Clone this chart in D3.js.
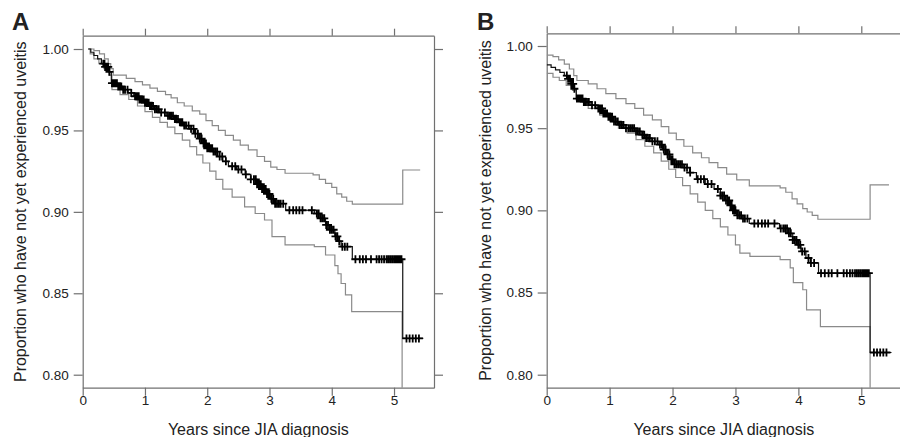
<!DOCTYPE html>
<html>
<head>
<meta charset="utf-8">
<script src="https://cdn.jsdelivr.net/npm/d3@7"></script>
<style>
	body { margin: 0; background: #fff; }
	text { font-family: "Liberation Sans", Arial, sans-serif; fill: #222; }
</style>
</head>
<body>
<script>

var xTicks = [0, 1, 2, 3, 4, 5];
var yTicks = [0.80, 0.85, 0.90, 0.95, 1.00];

// panel A : Kaplan-Meier estimate [years, proportion]
var survA = [[0.09,1.000],[0.13,0.998],[0.18,0.996],[0.24,0.994],[0.30,0.991],[0.36,0.989],[0.42,0.986],[0.46,0.979],[0.56,0.977],[0.64,0.975],[0.73,0.973],[0.82,0.971],[0.91,0.969],[0.99,0.967],[1.07,0.965],[1.15,0.963],[1.23,0.961],[1.35,0.959],[1.46,0.957],[1.54,0.955],[1.62,0.953],[1.71,0.951],[1.80,0.948],[1.87,0.945],[1.93,0.942],[1.99,0.939],[2.09,0.937],[2.17,0.934],[2.25,0.931],[2.34,0.928],[2.47,0.926],[2.61,0.923],[2.70,0.920],[2.80,0.917],[2.88,0.914],[2.95,0.911],[3.01,0.908],[3.08,0.905],[3.26,0.901],[3.72,0.899],[3.82,0.896],[3.90,0.892],[3.97,0.889],[4.05,0.885],[4.10,0.882],[4.15,0.8786],[4.33,0.8709],[5.14,0.8223],[5.47,0.8223]];
var upperA = [[0.09,1.000],[0.18,0.999],[0.27,0.997],[0.35,0.994],[0.41,0.991],[0.45,0.988],[0.49,0.984],[0.70,0.982],[0.84,0.980],[0.96,0.978],[1.08,0.976],[1.20,0.974],[1.33,0.972],[1.42,0.970],[1.52,0.967],[1.63,0.965],[1.76,0.962],[1.88,0.960],[1.98,0.956],[2.08,0.953],[2.18,0.950],[2.29,0.947],[2.42,0.944],[2.53,0.941],[2.66,0.938],[2.80,0.934],[2.92,0.931],[3.02,0.9275],[3.12,0.926],[3.25,0.9237],[3.70,0.9227],[3.80,0.920],[3.90,0.9175],[4.00,0.915],[4.08,0.911],[4.16,0.909],[4.24,0.9065],[4.33,0.9047],[5.14,0.9257],[5.42,0.9257]];
var lowerA = [[0.09,1.000],[0.12,0.997],[0.18,0.994],[0.26,0.991],[0.34,0.988],[0.42,0.984],[0.47,0.975],[0.60,0.972],[0.74,0.969],[0.88,0.965],[1.00,0.9615],[1.12,0.958],[1.24,0.955],[1.36,0.952],[1.48,0.948],[1.60,0.944],[1.72,0.940],[1.83,0.935],[1.93,0.930],[2.04,0.925],[2.14,0.920],[2.25,0.914],[2.40,0.909],[2.60,0.903],[2.77,0.899],[2.92,0.895],[3.04,0.8848],[3.25,0.8797],[3.72,0.8786],[3.90,0.8735],[4.05,0.867],[4.10,0.862],[4.15,0.856],[4.22,0.849],[4.32,0.8387],[5.13,0.70]];
var censorA = [0.33,0.35,0.36,0.38,0.40,0.41,0.43,
	0.47,0.49,0.50,0.52,0.53,0.55,0.57,0.58,0.60,0.62,0.65,0.68,0.72,0.78,
	0.84,0.86,0.88,0.90,0.91,0.93,0.95,0.97,0.98,1.00,1.02,1.04,1.06,1.08,1.10,1.13,1.16,1.19,1.22,1.26,
	1.32,1.37,1.40,1.42,1.45,1.48,1.50,1.53,1.56,1.58,1.60,1.63,1.66,1.70,1.74,1.78,1.81,1.85,1.88,1.91,1.94,1.96,1.98,2.00,2.02,2.04,2.06,2.08,2.10,2.13,2.16,2.20,2.24,2.30,
	2.40,2.45,2.50,2.55,2.62,
	2.70,2.75,2.78,2.80,2.82,2.84,2.86,2.88,2.90,2.92,2.94,2.96,2.98,3.00,3.03,3.06,3.09,3.12,3.15,3.18,3.22,
	3.32,3.38,3.43,3.48,3.53,3.68,
	3.76,3.79,3.82,3.85,3.88,3.91,3.94,3.97,4.00,4.03,4.06,4.09,4.12,4.17,4.21,4.25,
	4.38,4.45,4.50,4.55,4.63,4.72,4.76,4.80,4.84,4.88,4.91,4.94,4.97,5.00,5.02,5.04,5.06,5.08,5.10,5.12,
	5.20,5.25,5.30,5.35,5.40];

// panel B
var survB = [[0.00,0.9885],[0.07,0.987],[0.14,0.9855],[0.21,0.984],[0.28,0.982],[0.34,0.980],[0.39,0.977],[0.44,0.974],[0.47,0.968],[0.58,0.966],[0.69,0.964],[0.80,0.962],[0.90,0.959],[0.98,0.957],[1.06,0.954],[1.14,0.952],[1.23,0.950],[1.40,0.948],[1.50,0.946],[1.58,0.944],[1.67,0.942],[1.77,0.940],[1.84,0.937],[1.90,0.934],[1.96,0.931],[2.02,0.928],[2.17,0.926],[2.27,0.923],[2.38,0.919],[2.52,0.916],[2.66,0.913],[2.76,0.909],[2.84,0.906],[2.91,0.903],[2.96,0.900],[3.02,0.897],[3.10,0.895],[3.22,0.892],[3.70,0.889],[3.84,0.886],[3.91,0.882],[3.98,0.879],[4.04,0.875],[4.12,0.871],[4.19,0.868],[4.32,0.8618],[5.14,0.8135],[5.48,0.8135]];
var upperB = [[0.00,0.9945],[0.10,0.9935],[0.19,0.9915],[0.28,0.989],[0.36,0.986],[0.43,0.982],[0.48,0.979],[0.66,0.977],[0.80,0.974],[0.94,0.971],[1.10,0.968],[1.26,0.965],[1.40,0.962],[1.54,0.958],[1.68,0.955],[1.82,0.951],[1.94,0.947],[2.06,0.943],[2.18,0.939],[2.32,0.935],[2.46,0.932],[2.58,0.929],[2.72,0.926],[2.86,0.922],[3.02,0.9185],[3.22,0.9149],[3.71,0.9137],[3.80,0.911],[3.90,0.907],[3.98,0.904],[4.07,0.901],[4.14,0.899],[4.22,0.897],[4.31,0.8946],[5.14,0.9155],[5.44,0.9155]];
var lowerB = [[0.00,0.9834],[0.10,0.981],[0.20,0.979],[0.31,0.976],[0.41,0.973],[0.47,0.967],[0.66,0.962],[0.84,0.958],[1.00,0.954],[1.14,0.950],[1.28,0.947],[1.42,0.943],[1.56,0.939],[1.70,0.935],[1.82,0.930],[1.94,0.925],[2.05,0.920],[2.16,0.915],[2.28,0.910],[2.40,0.905],[2.52,0.900],[2.64,0.895],[2.76,0.890],[2.88,0.885],[3.00,0.879],[3.07,0.874],[3.23,0.872],[3.71,0.870],[3.87,0.865],[3.92,0.856],[4.07,0.8517],[4.13,0.8395],[4.35,0.8293],[5.14,0.70]];
var censorB = [0.32,0.34,0.35,0.37,0.39,0.40,0.42,0.44,
	0.48,0.50,0.52,0.53,0.55,0.57,0.59,0.61,0.64,0.67,0.72,0.77,
	0.82,0.84,0.86,0.88,0.90,0.92,0.94,0.96,0.98,1.00,1.02,1.04,1.07,1.10,1.13,1.16,1.19,1.22,1.26,
	1.30,1.33,1.36,1.39,1.42,1.45,1.48,1.52,1.55,1.58,1.61,1.64,1.68,1.72,1.76,1.80,1.83,1.86,1.89,1.92,1.95,1.98,2.00,2.03,2.06,2.09,2.12,2.15,2.19,2.23,2.28,
	2.40,2.45,2.50,2.56,2.62,
	2.72,2.76,2.79,2.82,2.85,2.88,2.90,2.92,2.94,2.96,2.98,3.00,3.03,3.06,3.09,3.12,3.15,3.19,
	3.30,3.36,3.42,3.47,3.52,3.62,
	3.72,3.76,3.79,3.82,3.85,3.88,3.91,3.94,3.97,4.00,4.03,4.06,4.10,4.16,4.20,4.25,
	4.36,4.42,4.48,4.53,4.62,4.72,4.77,4.82,4.86,4.90,4.93,4.96,4.99,5.02,5.04,5.06,5.08,5.10,5.12,
	5.20,5.25,5.30,5.35,5.40];

var panels = [
	{ label: "A", surv: survA, upper: upperA, lower: lowerA, censor: censorA,
	  l: 82.7, t: 35.7, r: 434, b: 387.7, xMax: 5.642, yMin: 0.79202, yMax: 1.00817,
	  labelX: 12, titleX: 25.5, rightAxis: true },
	{ label: "B", surv: survB, upper: upperB, lower: lowerB, censor: censorB,
	  l: 546.7, t: 33.3, r: 901, b: 387.7, xMax: 5.631, yMin: 0.79209, yMax: 1.00773,
	  labelX: 477, titleX: 490.5, rightAxis: false }
];

var svg = d3.select("body").append("svg")
	.attr("width", 900)
	.attr("height", 437);

var axisColor = "#707070";

panels.forEach(function(p, i) {
	var x = d3.scaleLinear().domain([0, p.xMax]).range([p.l, p.r]);
	var y = d3.scaleLinear().domain([p.yMin, p.yMax]).range([p.b, p.t]);

	var g = svg.append("g");

	//clip the curves to the box
	svg.append("defs").append("clipPath")
		.attr("id", "clip" + i)
	  .append("rect")
		.attr("x", p.l).attr("y", p.t)
		.attr("width", p.r - p.l).attr("height", p.b - p.t);

	var gx = g.append("g")
		.attr("transform", "translate(0," + p.b + ")")
		.call(d3.axisBottom(x).tickValues(xTicks).tickSize(8).tickSizeOuter(0).tickPadding(0).tickFormat(d3.format("d")));
	var gt = g.append("g")
		.attr("transform", "translate(0," + p.t + ")")
		.call(d3.axisTop(x).tickValues(xTicks).tickSize(7).tickSizeOuter(0).tickFormat(""));
	var gy = g.append("g")
		.attr("transform", "translate(" + p.l + ",0)")
		.call(d3.axisLeft(y).tickValues(yTicks).tickSize(9).tickSizeOuter(0).tickPadding(5).tickFormat(d3.format(".2f")));
	var axes = [gx, gt, gy];
	if (p.rightAxis) {
		axes.push(g.append("g")
			.attr("transform", "translate(" + p.r + ",0)")
			.call(d3.axisRight(y).tickValues(yTicks).tickSize(9).tickSizeOuter(0).tickFormat("")));
	}
	axes.forEach(function(a) {
		a.selectAll("path, line").attr("stroke", axisColor).attr("stroke-width", 1.2);
		a.selectAll("text").attr("fill", "#222").style("font-size", "13.5px")
			.style("font-family", "'Liberation Sans', Arial, sans-serif");
	});

	var line = d3.line()
		.x(function(d) { return x(d[0]); })
		.y(function(d) { return y(d[1]); })
		.curve(d3.curveStepAfter);

	var plot = g.append("g").attr("clip-path", "url(#clip" + i + ")");

	plot.selectAll("path.ci")
		.data([p.upper, p.lower])
	  .enter().append("path")
		.attr("class", "ci")
		.attr("d", line)
		.attr("fill", "none")
		.attr("stroke", "#8a8a8a")
		.attr("stroke-width", 1.2);

	plot.append("path")
		.attr("d", line(p.surv))
		.attr("fill", "none")
		.attr("stroke", "#111")
		.attr("stroke-width", 1.2);

	// censoring marks sit on the step curve
	var bis = d3.bisector(function(d) { return d[0]; }).right;
	var survAt = function(tm) { return p.surv[Math.max(0, bis(p.surv, tm) - 1)][1]; };
	var m = 4;
	plot.append("path")
		.attr("d", p.censor.map(function(tm) {
			var cx = x(tm), cy = y(survAt(tm));
			return "M" + (cx - m) + "," + cy + "H" + (cx + m) + "M" + cx + "," + (cy - m) + "V" + (cy + m);
		}).join(""))
		.attr("fill", "none")
		.attr("stroke", "#000")
		.attr("stroke-width", 1.8);

	g.append("text")
		.attr("x", p.labelX).attr("y", 29.5)
		.style("font-size", "24px").style("font-weight", "bold")
		.attr("fill", "#111")
		.text(p.label);

	g.append("text")
		.attr("x", (p.l + p.r) / 2).attr("y", 435)
		.attr("text-anchor", "middle")
		.style("font-size", "16px")
		.text("Years since JIA diagnosis");

	g.append("text")
		.attr("transform", "translate(" + p.titleX + "," + ((p.t + p.b) / 2) + ") rotate(-90)")
		.attr("text-anchor", "middle")
		.style("font-size", "16px")
		.text("Proportion who have not yet experienced uveitis");
});

</script>
</body>
</html>
